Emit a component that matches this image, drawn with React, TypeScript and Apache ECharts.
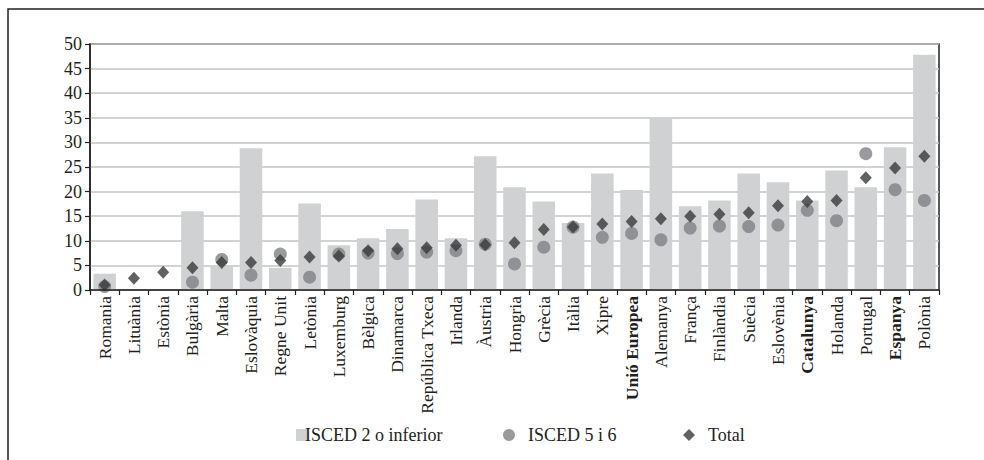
import React, { useEffect, useRef } from "react";
import * as echarts from "echarts";

const categories = [
  "Romania", "Lituània", "Estònia", "Bulgària", "Malta", "Eslovàquia", "Regne Unit",
  "Letònia", "Luxemburg", "Bèlgica", "Dinamarca", "República Txeca", "Irlanda", "Àustria",
  "Hongria", "Grècia", "Itàlia", "Xipre", "Unió Europea", "Alemanya", "França",
  "Finlàndia", "Suècia", "Eslovènia", "Catalunya", "Holanda", "Portugal", "Espanya", "Polònia",
];
const boldCategories = ["Unió Europea", "Catalunya", "Espanya"];

const isced2 = [
  3.3, null, null, 16.0, 5.0, 28.8, 4.5, 17.6, 9.1, 10.5, 12.4, 18.4, 10.5, 27.2,
  20.9, 18.0, 13.6, 23.7, 20.3, 35.0, 17.0, 18.2, 23.7, 21.9, 18.2, 24.3, 20.9, 29.0, 47.8,
];
const isced56 = [
  0.7, null, null, 1.6, 6.2, 3.0, 7.3, 2.6, 7.3, 7.5, 7.4, 7.7, 8.0, 9.3,
  5.3, 8.7, 12.8, 10.7, 11.5, 10.2, 12.6, 13.0, 12.9, 13.2, 16.2, 14.1, 27.7, 20.4, 18.2,
];
const total = [
  1.0, 2.4, 3.6, 4.5, 5.6, 5.6, 6.0, 6.7, 6.9, 8.0, 8.4, 8.6, 9.1, 9.2,
  9.6, 12.3, 12.8, 13.4, 13.9, 14.5, 15.0, 15.4, 15.7, 17.1, 18.0, 18.2, 22.8, 24.8, 27.2,
];

const FONT = "Liberation Serif";
const INK = "#231f20";

export default function App() {
  const ref = useRef<HTMLDivElement>(null);
  useEffect(() => {
    if (!ref.current) return;
    const chart = echarts.init(ref.current, null, { renderer: "svg" });
    const legendText = { fontFamily: FONT, fontSize: 18, color: INK };
    chart.setOption({
      animation: false,
      backgroundColor: "#fff",
      textStyle: { fontFamily: FONT },
      graphic: [
        {
          type: "rect",
          shape: { x: 8, y: 9, width: 1000, height: 480 },
          style: { fill: "none", stroke: "#222", lineWidth: 1.5 },
          silent: true,
          z: -1,
        },
      ],
      grid: {
        left: 90,
        right: 45,
        top: 44,
        bottom: 170,
        show: true,
        borderColor: "#222",
        borderWidth: 1.5,
        backgroundColor: "transparent",
      },
      legend: [
        {
          left: 291,
          top: 421,
          itemWidth: 12,
          itemHeight: 12,
          data: [{ name: "ISCED 2 o inferior", icon: "rect" }],
          textStyle: { ...legendText, padding: [0, 0, 0, -8] },
        },
        {
          left: 498,
          top: 421,
          itemWidth: 12,
          itemHeight: 12,
          data: [{ name: "ISCED 5 i 6", icon: "circle" }],
          textStyle: { ...legendText, padding: [0, 0, 0, 8] },
        },
        {
          left: 678,
          top: 421,
          itemWidth: 12,
          itemHeight: 12,
          data: [{ name: "Total", icon: "diamond" }],
          textStyle: { ...legendText, padding: [0, 0, 0, 8] },
        },
      ],
      xAxis: {
        type: "category",
        data: categories,
        boundaryGap: true,
        z: 5,
        axisLine: { lineStyle: { color: "#222", width: 1.5 } },
        axisTick: { show: true, length: 5, lineStyle: { color: "#222", width: 1.2 } },
        axisLabel: {
          rotate: 90,
          interval: 0,
          fontFamily: FONT,
          fontSize: 17.5,
          color: INK,
          margin: 6,
          formatter: (v: string) => (boldCategories.includes(v) ? `{b|${v}}` : v),
          rich: {
            b: { fontWeight: "bold", fontFamily: FONT, fontSize: 17.5, color: INK },
          },
        },
        splitLine: { show: false },
      },
      yAxis: {
        type: "value",
        min: 0,
        max: 50,
        interval: 5,
        axisLine: { show: true, lineStyle: { color: "#222", width: 1.5 } },
        axisTick: { show: true, length: 5, lineStyle: { color: "#222", width: 1.2 } },
        axisLabel: { fontFamily: FONT, fontSize: 18, color: INK, margin: 8 },
        splitLine: { show: true, lineStyle: { color: "#c4c4c4", width: 1.5 } },
      },
      series: [
        {
          name: "ISCED 2 o inferior",
          type: "bar",
          data: isced2,
          barWidth: "77%",
          itemStyle: { color: "#d0d1d3" },
          z: 2,
        },
        {
          name: "ISCED 5 i 6",
          type: "scatter",
          data: isced56,
          symbol: "circle",
          symbolSize: 13,
          itemStyle: { color: "#808184" },
          z: 3,
        },
        {
          name: "Total",
          type: "scatter",
          data: total,
          symbol: "diamond",
          symbolSize: [12, 13],
          itemStyle: { color: "#3a3a3a" },
          z: 4,
        },
      ],
    });
    return () => chart.dispose();
  }, []);
  return <div ref={ref} style={{ width: 984, height: 460, position: "absolute", left: 0, top: 0 }} />;
}
